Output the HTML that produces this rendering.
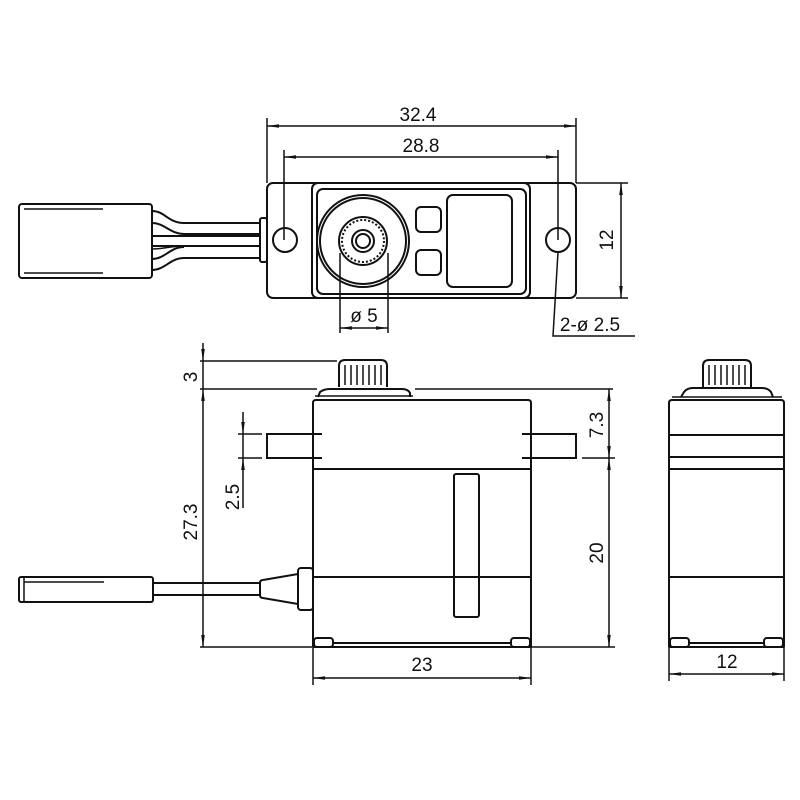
<!DOCTYPE html>
<html><head><meta charset="utf-8"><style>
html,body{margin:0;padding:0;background:#fff;}
svg{display:block;}
text{font-family:"Liberation Sans",sans-serif;font-size:19px;fill:#111;}
</style></head><body>
<svg width="800" height="800" viewBox="0 0 800 800" xmlns="http://www.w3.org/2000/svg">
<defs>
<marker id="a" markerWidth="12" markerHeight="6" refX="12" refY="3" orient="auto" markerUnits="userSpaceOnUse"><path d="M0,1.2 L12,3 L0,4.8z" fill="#111"/></marker>
<marker id="b" markerWidth="12" markerHeight="6" refX="0" refY="3" orient="auto" markerUnits="userSpaceOnUse"><path d="M12,1.2 L0,3 L12,4.8z" fill="#111"/></marker>
</defs>
<g stroke="#111" stroke-width="2" fill="none">
<!-- TOP VIEW -->
<line x1="267" y1="118" x2="267" y2="183" stroke-width="1.5"/>
<line x1="576" y1="118" x2="576" y2="183" stroke-width="1.5"/>
<line x1="267" y1="126" x2="576" y2="126" stroke-width="1.5" marker-start="url(#b)" marker-end="url(#a)"/>
<line x1="284" y1="150" x2="284" y2="240" stroke-width="1.5"/>
<line x1="558" y1="150" x2="558" y2="240" stroke-width="1.5"/>
<line x1="284" y1="157" x2="558" y2="157" stroke-width="1.5" marker-start="url(#b)" marker-end="url(#a)"/>
<rect x="267" y="183" width="309" height="115" rx="6"/>
<rect x="312" y="183" width="218" height="115" rx="6"/>
<rect x="317" y="189" width="209" height="105" rx="6"/>
<circle cx="285" cy="240" r="12"/>
<circle cx="558" cy="240" r="12"/>
<circle cx="363" cy="241" r="46"/>
<circle cx="363" cy="241" r="43"/>
<circle cx="363" cy="241" r="24"/>
<circle cx="363" cy="241" r="21" stroke-dasharray="2 2"/>
<circle cx="363" cy="241" r="11"/>
<circle cx="363" cy="241" r="7"/>
<rect x="416" y="207" width="25" height="25" rx="5"/>
<rect x="416" y="250" width="25" height="25" rx="5"/>
<rect x="447" y="195" width="65" height="92" rx="6"/>
<line x1="340" y1="253" x2="340" y2="333" stroke-width="1.5"/>
<line x1="388" y1="253" x2="388" y2="333" stroke-width="1.5"/>
<line x1="340" y1="328" x2="388" y2="328" stroke-width="1.5" marker-start="url(#b)" marker-end="url(#a)"/>
<polyline points="558,252 553,336 635,336" stroke-width="1.5"/>
<line x1="576" y1="183" x2="628" y2="183" stroke-width="1.5"/>
<line x1="576" y1="298" x2="628" y2="298" stroke-width="1.5"/>
<line x1="621" y1="183" x2="621" y2="298" stroke-width="1.5" marker-start="url(#b)" marker-end="url(#a)"/>
<!-- top plug -->
<rect x="19" y="204" width="133" height="74" rx="3"/>
<line x1="24" y1="209" x2="103" y2="209" stroke-width="1.5"/>
<line x1="24" y1="273" x2="103" y2="273" stroke-width="1.5"/>
<path d="M152,211 C165,211 168,223 184,223 L260,223"/>
<path d="M152,223 C165,223 170,234 184,234 L260,234"/>
<path d="M152,236 L260,236"/>
<path d="M152,246 L260,246"/>
<path d="M152,249 C165,249 170,246 184,246" stroke-width="1.5"/>
<path d="M152,259 C165,259 170,247 184,247"/>
<path d="M152,270 C165,270 170,258 184,258 L260,258"/>
<rect x="260" y="218" width="7" height="44" rx="2"/>
<!-- FRONT VIEW -->
<line x1="200" y1="361" x2="337" y2="361" stroke-width="1.5"/>
<line x1="200" y1="389" x2="317" y2="389" stroke-width="1.5"/>
<line x1="415" y1="389" x2="613" y2="389" stroke-width="1.5"/>
<line x1="200" y1="647" x2="312" y2="647" stroke-width="1.5"/>
<line x1="203" y1="343" x2="203" y2="361" stroke-width="1.5" marker-end="url(#a)"/>
<line x1="203" y1="361" x2="203" y2="389" stroke-width="1.5"/>
<line x1="203" y1="389" x2="203" y2="647" stroke-width="1.5" marker-start="url(#b)" marker-end="url(#a)"/>
<path d="M339,387 L339,366 Q339,360 345,360 L381,360 Q387,360 387,366 L387,387"/>
<g stroke-width="1.5"><line x1="345" y1="365" x2="345" y2="385"/><line x1="351" y1="365" x2="351" y2="385"/><line x1="357" y1="365" x2="357" y2="385"/><line x1="363" y1="365" x2="363" y2="385"/><line x1="369" y1="365" x2="369" y2="385"/><line x1="375" y1="365" x2="375" y2="385"/><line x1="381" y1="365" x2="381" y2="385"/></g>
<path d="M318,397 L320,392 Q324,389 330,389 L402,389 Q408,389 410,393 L410,397"/>
<path d="M313,647 L313,403 Q313,400 316,400 L528,400 Q531,400 531,403 L531,647"/>
<line x1="315" y1="396" x2="413" y2="396" stroke-width="1.5"/>
<path d="M322,434 L267,434 L267,458 L322,458"/>
<path d="M522,434 L576,434 L576,458 L522,458"/>
<line x1="313" y1="469" x2="531" y2="469"/>
<line x1="313" y1="577" x2="531" y2="577"/>
<rect x="454" y="474" width="25" height="143" rx="2"/>
<rect x="314" y="638" width="19" height="9" rx="3"/>
<rect x="511" y="638" width="19" height="9" rx="3"/>
<line x1="333" y1="643" x2="511" y2="643"/>
<line x1="313" y1="647" x2="531" y2="647"/>
<line x1="313" y1="647" x2="313" y2="685" stroke-width="1.5"/>
<line x1="531" y1="647" x2="531" y2="685" stroke-width="1.5"/>
<line x1="313" y1="678" x2="531" y2="678" stroke-width="1.5" marker-start="url(#b)" marker-end="url(#a)"/>
<line x1="531" y1="647" x2="615" y2="647" stroke-width="1.5"/>
<line x1="582" y1="458" x2="615" y2="458" stroke-width="1.5"/>
<line x1="609" y1="389" x2="609" y2="458" stroke-width="1.5" marker-start="url(#b)" marker-end="url(#a)"/>
<line x1="609" y1="458" x2="609" y2="647" stroke-width="1.5" marker-start="url(#b)" marker-end="url(#a)"/>
<line x1="238" y1="434" x2="262" y2="434" stroke-width="1.5"/>
<line x1="238" y1="458" x2="262" y2="458" stroke-width="1.5"/>
<line x1="243" y1="412" x2="243" y2="434" stroke-width="1.5" marker-end="url(#a)"/>
<line x1="243" y1="434" x2="243" y2="458" stroke-width="1.5"/>
<line x1="243" y1="508" x2="243" y2="458" stroke-width="1.5" marker-end="url(#a)"/>
<!-- lower plug & cable -->
<rect x="19" y="577" width="134" height="25" rx="2"/>
<line x1="24" y1="582" x2="104" y2="582" stroke-width="1.5"/>
<line x1="24" y1="577" x2="24" y2="602" stroke-width="1.5"/>
<line x1="153" y1="583" x2="260" y2="583"/>
<line x1="153" y1="595" x2="260" y2="595"/>
<path d="M260,583 L260,595 Q260,598 263,598 L298,604 M263,580 L298,574 M260,583 Q260,580 263,580"/>
<rect x="298" y="568" width="15" height="42" rx="3"/>
<!-- SIDE VIEW -->
<path d="M703,387 L703,366 Q703,360 709,360 L745,360 Q751,360 751,366 L751,387"/>
<g stroke-width="1.5"><line x1="709" y1="365" x2="709" y2="385"/><line x1="715" y1="365" x2="715" y2="385"/><line x1="721" y1="365" x2="721" y2="385"/><line x1="727" y1="365" x2="727" y2="385"/><line x1="733" y1="365" x2="733" y2="385"/><line x1="739" y1="365" x2="739" y2="385"/><line x1="745" y1="365" x2="745" y2="385"/></g>
<path d="M681,397 L684,392 Q687,388 693,388 L762,388 Q768,388 771,392 L773,397"/>
<line x1="672" y1="397" x2="782" y2="397" stroke-width="1.5"/>
<path d="M669,647 L669,403 Q669,400 672,400 L781,400 Q784,400 784,403 L784,647"/>
<line x1="669" y1="435" x2="784" y2="435"/>
<line x1="669" y1="457" x2="784" y2="457"/>
<line x1="669" y1="469" x2="784" y2="469"/>
<line x1="669" y1="577" x2="784" y2="577"/>
<rect x="670" y="638" width="19" height="9" rx="3"/>
<rect x="764" y="638" width="19" height="9" rx="3"/>
<line x1="689" y1="643" x2="764" y2="643"/>
<line x1="669" y1="647" x2="784" y2="647"/>
<line x1="669" y1="647" x2="669" y2="681" stroke-width="1.5"/>
<line x1="784" y1="647" x2="784" y2="681" stroke-width="1.5"/>
<line x1="669" y1="674" x2="784" y2="674" stroke-width="1.5" marker-start="url(#b)" marker-end="url(#a)"/>
</g>
<g>
<text x="418" y="121" text-anchor="middle">32.4</text>
<text x="421" y="152" text-anchor="middle">28.8</text>
<text x="364" y="322" text-anchor="middle">ø 5</text>
<text x="590" y="331" text-anchor="middle">2-ø 2.5</text>
<text transform="translate(613,240) rotate(-90)" text-anchor="middle">12</text>
<text transform="translate(197,377) rotate(-90)" text-anchor="middle">3</text>
<text transform="translate(197,522) rotate(-90)" text-anchor="middle">27.3</text>
<text transform="translate(239,497) rotate(-90)" text-anchor="middle">2.5</text>
<text transform="translate(603,425) rotate(-90)" text-anchor="middle">7.3</text>
<text transform="translate(603,553) rotate(-90)" text-anchor="middle">20</text>
<text x="422" y="671" text-anchor="middle">23</text>
<text x="727" y="668" text-anchor="middle">12</text>
</g>
</svg>
</body></html>
